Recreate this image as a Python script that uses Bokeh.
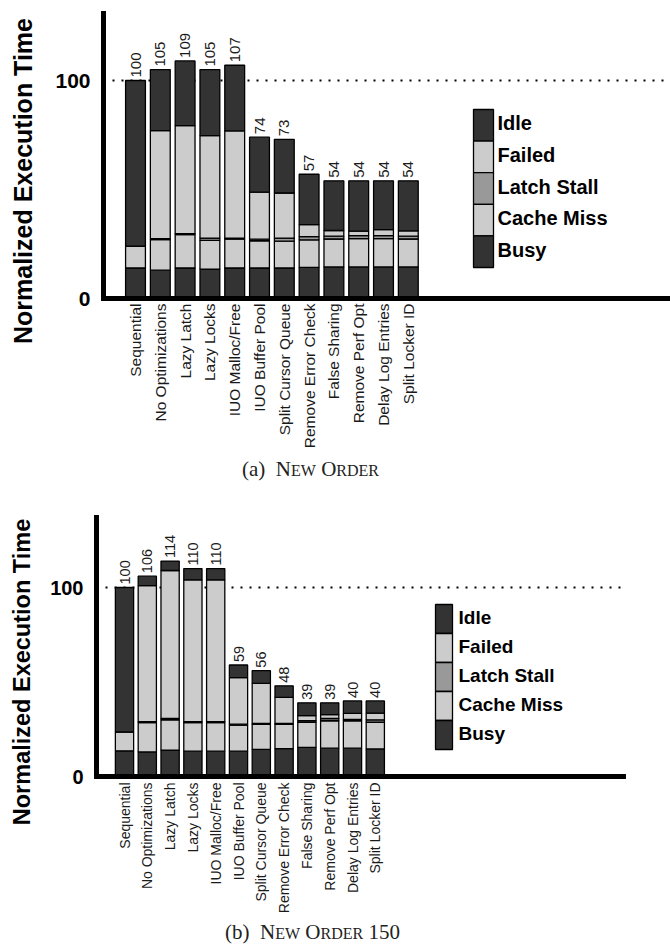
import math

from bokeh.core.properties import value
from bokeh.embed import file_html
from bokeh.layouts import column, row
from bokeh.models import ColumnDataSource, Div, FixedTicker, Range1d, Span
from bokeh.plotting import figure
from bokeh.resources import INLINE

# ---------------------------------------------------------------- data
categories = [
    "Sequential", "No Optimizations", "Lazy Latch", "Lazy Locks",
    "IUO Malloc/Free", "IUO Buffer Pool", "Split Cursor Queue",
    "Remove Error Check", "False Sharing", "Remove Perf Opt",
    "Delay Log Entries", "Split Locker ID",
]

# (a) NEW ORDER
a_totals = [100, 105, 109, 105, 107, 74, 73, 57, 54, 54, 54, 54]
a_busy = [14, 13, 14, 13.5, 14, 14, 14, 14.3, 14.5, 14.5, 14.5, 14.5]
a_cache = [10, 14, 15.3, 13.2, 13.2, 12.5, 12.3, 12.6, 12.8, 13, 13, 12.8]
a_latch = [0, 0.5, 0.5, 1, 0.5, 0.7, 1.4, 1.5, 1.3, 1.3, 1.3, 1.3]
a_failed = [0, 49.5, 49.5, 47, 49.2, 21.6, 20.7, 5.5, 2.6, 2.1, 2.8, 2.4]
a_idle = [76, 28, 29.7, 30.3, 30.1, 25.2, 24.6, 23.1, 22.8, 23.1, 22.4, 23]

# (b) NEW ORDER 150
b_totals = [100, 106, 114, 110, 110, 59, 56, 48, 39, 39, 40, 40]
b_busy = [13.6, 13, 14, 13.4, 13.4, 13.4, 14.3, 14.8, 15.4, 15, 15, 14.6]
b_cache = [10, 15.5, 16, 15.1, 15.1, 13.8, 13.3, 12.8, 13.2, 14.5, 14.5, 14.1]
b_latch = [0, 0.5, 0.7, 0.5, 0.5, 0.5, 0.5, 0.5, 0.9, 1.2, 0.7, 1.3]
b_failed = [0, 72, 78.3, 75, 75, 24.6, 21.2, 13.8, 2.7, 2, 3.2, 3.5]
b_idle = [76.4, 5, 5, 6, 6, 6.7, 6.7, 6.1, 6.8, 6.3, 6.6, 6.5]

y_ticks = [0, 100]
y_title = "Normalized Execution Time"
legend_names = ["Idle", "Failed", "Latch Stall", "Cache Miss", "Busy"]
stack_keys = ["busy", "cache", "latch", "failed", "idle"]

DARK = "#333333"
LIGHT = "#cccccc"
MID = "#999999"
stack_colors = [DARK, LIGHT, MID, LIGHT, DARK]          # bottom -> top
legend_colors = [DARK, LIGHT, MID, LIGHT, DARK]         # top -> bottom

FONT = "Liberation Sans"
SERIF = "Liberation Serif"
PAGE_W = 670
TITLE_W = 40          # strip on the left holding the rotated y title


def title_strip(cfg):
    """Narrow HTML strip with the rotated y-axis title."""
    H = cfg["height"]
    html = (
        f'<div style="position:relative;width:{TITLE_W}px;height:{H}px;">'
        f'<div style="position:absolute;left:{cfg["ytitle_x"]}px;'
        f'top:{cfg["ytitle_y"]}px;'
        f'transform:translate(-50%,-50%) rotate(-90deg);'
        f'white-space:nowrap;line-height:1;font-family:\'{FONT}\';'
        f'font-weight:bold;font-size:{cfg["axlab_size"]};color:#000;">'
        f'{y_title}</div></div>'
    )
    return Div(text=html, width=TITLE_W, height=H, margin=(0, 0, 0, 0))


def make_panel(totals, busy, cache, latch, failed, idle, cfg):
    W = PAGE_W - TITLE_W
    left = cfg["frame_left"] - TITLE_W
    right = cfg["frame_right"] - TITLE_W
    top, bottom = cfg["frame_top"], cfg["frame_bottom"]
    H = cfg["height"]
    step = cfg["step"]                    # px per category
    ppu = cfg["ppu"]                      # px per y unit
    x0 = -(cfg["first_center"] - cfg["frame_left"]) / step
    x1 = x0 + (right - left) / step
    y1 = (bottom - top) / ppu

    p = figure(width=W, height=H, output_backend="svg", toolbar_location=None,
               x_range=Range1d(x0, x1), y_range=Range1d(0, y1),
               min_border_left=left, min_border_right=W - right,
               min_border_top=top, min_border_bottom=H - bottom)
    p.outline_line_color = None
    p.grid.visible = False
    p.background_fill_color = "white"
    p.border_fill_color = "white"

    def px_x(px):
        return x0 + (px - cfg["frame_left"]) / step

    def px_y(py):
        return (bottom - py) / ppu

    # dotted reference at 100
    p.add_layout(Span(location=100, dimension="width", line_color="black",
                      line_width=2, line_dash="2 7", level="underlay"))

    idx = list(range(len(categories)))
    src = ColumnDataSource(dict(x=idx, busy=busy, cache=cache, latch=latch,
                                failed=failed, idle=idle,
                                total=totals, lab=[str(t) for t in totals]))
    p.vbar_stack(stack_keys, x="x", width=0.8, source=src,
                 fill_color=stack_colors, line_color="black", line_width=1.3)

    p.text(x="x", y="total", text="lab", source=src, angle=math.pi / 2,
           text_align="left", text_baseline="middle", y_offset=-3,
           text_font=value(FONT), text_font_size=cfg["val_size"],
           text_color="#1a1a1a")

    # legend column
    lx0, lx1 = px_x(cfg["leg_left"]), px_x(cfg["leg_right"])
    ly_top, ly_bot = px_y(cfg["leg_top"]), px_y(cfg["leg_bottom"])
    cell = (ly_top - ly_bot) / len(legend_names)
    tops = [ly_top - i * cell for i in range(len(legend_names))]
    leg = ColumnDataSource(dict(
        left=[lx0] * 5, right=[lx1] * 5, top=tops,
        bottom=[t - cell for t in tops], color=legend_colors,
        name=legend_names, ty=[t - cell / 2 for t in tops], tx=[lx1] * 5))
    p.quad(left="left", right="right", top="top", bottom="bottom",
           fill_color="color", line_color="black", line_width=1.3, source=leg)
    p.text(x="tx", y="ty", text="name", source=leg, x_offset=cfg["leg_gap"],
           y_offset=-2, text_align="left", text_baseline="middle",
           text_font=value(FONT), text_font_style="bold",
           text_font_size=cfg["leg_size"], text_color="black")

    # axes
    yax = p.yaxis[0]
    yax.ticker = FixedTicker(ticks=y_ticks)
    yax.axis_line_width = 5
    yax.axis_line_cap = "square"
    yax.major_tick_line_color = None
    yax.minor_tick_line_color = None
    yax.major_tick_out = 0
    yax.major_tick_in = 0
    yax.major_label_standoff = cfg["ylab_standoff"]
    yax.major_label_text_font = FONT
    yax.major_label_text_font_style = "bold"
    yax.major_label_text_font_size = cfg["tick_size"]
    yax.major_label_text_color = "black"

    xax = p.xaxis[0]
    xax.ticker = FixedTicker(ticks=idx)
    xax.major_label_overrides = {i: c for i, c in enumerate(categories)}
    xax.major_label_orientation = math.pi / 2
    xax.axis_line_width = 5
    xax.axis_line_cap = "square"
    xax.major_tick_line_color = None
    xax.minor_tick_line_color = None
    xax.major_tick_out = 0
    xax.major_tick_in = 0
    xax.major_label_standoff = cfg["xlab_standoff"]
    xax.major_label_text_font = FONT
    xax.major_label_text_font_size = cfg["cat_size"]
    xax.major_label_text_color = "#1a1a1a"

    return row(title_strip(cfg), p, spacing=0)


def caption_div(label, words, tail, cfg):
    """Small-caps caption: full-size initials, reduced remaining capitals."""
    big, small = cfg["cap_big"], cfg["cap_small"]
    parts = [f'<span style="font-size:{big}px">{label}&nbsp;&nbsp;</span>']
    for k, w in enumerate(words):
        if k:
            parts.append(f'<span style="font-size:{big}px">&nbsp;</span>')
        parts.append(f'<span style="font-size:{big}px">{w[0]}</span>'
                     f'<span style="font-size:{small}px">{w[1:]}</span>')
    if tail:
        parts.append(f'<span style="font-size:{big}px">&nbsp;{tail}</span>')
    html = (
        f'<div style="position:relative;width:{PAGE_W}px;'
        f'height:{cfg["cap_h"]}px;">'
        f'<div style="position:absolute;left:{cfg["cap_center"]}px;'
        f'top:{cfg["cap_top"]}px;transform:translateX(-50%);'
        f'white-space:nowrap;line-height:1;font-family:\'{SERIF}\';'
        f'color:#222222;">' + "".join(parts) + "</div></div>"
    )
    return Div(text=html, width=PAGE_W, height=cfg["cap_h"],
               margin=(0, 0, 0, 0))


cfg_a = dict(height=455, frame_left=103, frame_right=670, frame_top=13,
             frame_bottom=298, step=24.8, first_center=135, ppu=2.18,
             leg_left=473, leg_right=493, leg_top=109, leg_bottom=267,
             leg_gap=4, leg_size="20px", val_size="15px", cat_size="15.5px",
             tick_size="21px", axlab_size="25px", ylab_standoff=13,
             ytitle_x=22.5, ytitle_y=180.5, xlab_standoff=5,
             cap_big=21, cap_small=16, cap_center=310.5, cap_top=4, cap_h=30)

cfg_b = dict(height=435, frame_left=96, frame_right=623, frame_top=32,
             frame_bottom=291, step=22.8, first_center=124, ppu=1.89,
             leg_left=435, leg_right=452, leg_top=119, leg_bottom=264,
             leg_gap=6, leg_size="19px", val_size="14.5px", cat_size="14px",
             tick_size="20px", axlab_size="23.5px", ylab_standoff=13,
             ytitle_x=22.5, ytitle_y=186.5, xlab_standoff=6,
             cap_big=21, cap_small=16, cap_center=312.5, cap_top=2, cap_h=30)

panel_a = make_panel(a_totals, a_busy, a_cache, a_latch, a_failed, a_idle,
                     cfg_a)
panel_b = make_panel(b_totals, b_busy, b_cache, b_latch, b_failed, b_idle,
                     cfg_b)
cap_a = caption_div("(a)", ["NEW", "ORDER"], "", cfg_a)
cap_b = caption_div("(b)", ["NEW", "ORDER"], "150", cfg_b)

layout = column(panel_a, cap_a, panel_b, cap_b, spacing=0)

with open("out.html", "w") as f:
    f.write(file_html(layout, INLINE))
